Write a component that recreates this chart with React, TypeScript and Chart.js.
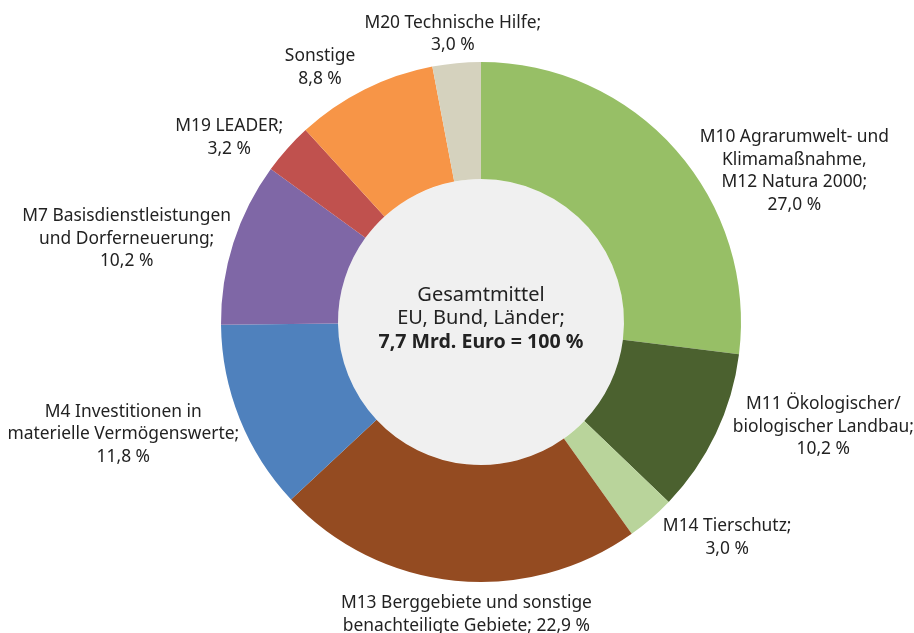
import React, { useEffect, useRef } from "react";
import { Chart, registerables } from "chart.js";

Chart.register(...registerables);

const categories: string[][] = [
  ["M10 Agrarumwelt- und", "Klimamaßnahme,", "M12 Natura 2000;"],
  ["M11 Ökologischer/", "biologischer Landbau;"],
  ["M14 Tierschutz;"],
  ["M13 Berggebiete und sonstige", "benachteiligte Gebiete;"],
  ["M4 Investitionen in", "materielle Vermögenswerte;"],
  ["M7 Basisdienstleistungen", "und Dorferneuerung;"],
  ["M19 LEADER;"],
  ["Sonstige"],
  ["M20 Technische Hilfe;"],
];
const shares: number[] = [27.0, 10.2, 3.0, 22.9, 11.8, 10.2, 3.2, 8.8, 3.0];
const colors: string[] = [
  "#97bf66", "#4b612f", "#b9d49b", "#944b21", "#4f81bd",
  "#7f67a6", "#c0514e", "#f79547", "#d5d2be",
];
const centerTitle: string[] = ["Gesamtmittel", "EU, Bund, Länder;"];
const centerBold = "7,7 Mrd. Euro = 100 %";

// label layout: distance (in outer radii) and angle shift (degrees) from arc mid angle
const labelDist: number[] = [1.338, 1.377, 1.258, 1.127, 1.442, 1.4, 1.2, 1.158, 1.112];
const labelShift: number[] = [15.7, -8.4, -8, -2.9, 4.4, -4.5, -5.6, -5.7, -0.2];
const inlinePct: boolean[] = [false, false, false, true, false, false, false, false, false];

const FONT = "'Noto Sans', sans-serif";
const fmt = (v: number) => v.toFixed(1).replace(".", ",") + " %";

const labelPlugin = {
  id: "labelPlugin",
  beforeDatasetsDraw(chart: any) {
    const meta = chart.getDatasetMeta(0);
    const arc = meta.data[0];
    if (!arc) return;
    const { x, y, innerRadius } = arc.getProps(["x", "y", "innerRadius"], true);
    const ctx = chart.ctx;
    ctx.save();
    ctx.beginPath();
    ctx.arc(x, y, innerRadius, 0, Math.PI * 2);
    ctx.fillStyle = "#f0f0f0";
    ctx.fill();
    ctx.restore();
  },
  afterDatasetsDraw(chart: any) {
    const meta = chart.getDatasetMeta(0);
    const ctx = chart.ctx;
    ctx.save();
    ctx.textAlign = "center";
    ctx.textBaseline = "middle";
    ctx.fillStyle = "#222222";
    const lh = 22.5;
    meta.data.forEach((el: any, i: number) => {
      const p = el.getProps(["x", "y", "startAngle", "endAngle", "outerRadius"], true);
      const mid = (p.startAngle + p.endAngle) / 2 + (labelShift[i] * Math.PI) / 180;
      const r = p.outerRadius * labelDist[i];
      const cx = p.x + Math.cos(mid) * r;
      const cy = p.y + Math.sin(mid) * r;
      const lines = [...categories[i]];
      if (inlinePct[i]) lines[lines.length - 1] += " " + fmt(shares[i]);
      else lines.push(fmt(shares[i]));
      ctx.font = `17.4px ${FONT}`;
      const y0 = cy - ((lines.length - 1) * lh) / 2;
      lines.forEach((t, k) => ctx.fillText(t, cx, y0 + k * lh));
    });
    const arc = meta.data[0];
    if (arc) {
      const cx = arc.x;
      const cy = arc.y;
      ctx.font = `20px ${FONT}`;
      ctx.fillText(centerTitle[0], cx, cy - 27);
      ctx.fillText(centerTitle[1], cx, cy - 4);
      ctx.font = `bold 19.6px ${FONT}`;
      ctx.fillText(centerBold, cx, cy + 20);
    }
    ctx.restore();
  },
};

export default function App() {
  const ref = useRef<HTMLCanvasElement | null>(null);
  useEffect(() => {
    if (!ref.current) return;
    const chart = new Chart(ref.current, {
      type: "doughnut",
      data: {
        labels: categories.map((c) => c.join(" ")),
        datasets: [
          {
            data: shares,
            backgroundColor: colors,
            borderWidth: 0,
          },
        ],
      },
      options: {
        animation: false,
        responsive: false,
        cutout: "55%",
        layout: { padding: { left: 221, right: 173, top: 62, bottom: 51 } },
        plugins: {
          legend: { display: false },
          tooltip: { enabled: false },
        },
      },
      plugins: [labelPlugin],
    });
    return () => chart.destroy();
  }, []);
  return (
    <div style={{ position: "fixed", left: 0, top: 0, width: 914, height: 633, background: "#fff" }}>
      <canvas ref={ref} width={914} height={633} style={{ width: 914, height: 633 }} />
    </div>
  );
}
